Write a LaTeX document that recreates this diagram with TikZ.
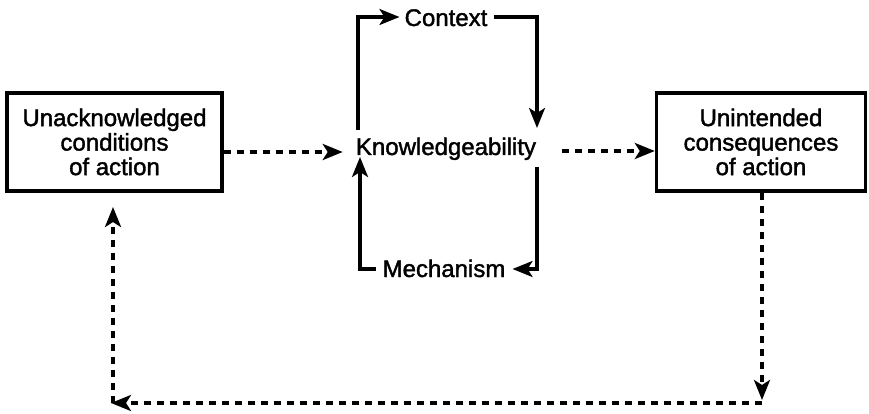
\documentclass[tikz,border=0pt]{standalone}
\usepackage{fontspec}
\setmainfont{Liberation Sans}[BoldFont=Liberation Sans, BoldFeatures={FakeBold=1.6}]
\usetikzlibrary{arrows.meta}

\begin{document}
\begin{tikzpicture}[x=1pt, y=-1pt,
  every node/.style={font=\fontsize{24}{24.5}\selectfont\bfseries},
  lbl/.style={anchor=base, inner xsep=0pt, inner ysep=0pt},
  box/.style={draw, line width=3.4pt, minimum width=#1, minimum height=98pt,
              inner sep=0pt, align=center},
  solidline/.style={line width=3.2pt},
  dotline/.style={line width=3.4pt, dash pattern=on 7pt off 6pt},
  tip/.style={-{Stealth[length=20pt,width=16pt,inset=5pt]}}]

\useasboundingbox (0,0) rectangle (869,414);

% the two outer boxes
\node[box=215pt] (uc) at (114.5,142) {Unacknowledged\\conditions\\of action};
\node[box=209pt] (uq) at (761,142) {Unintended\\consequences\\of action};

% central labels
\node[lbl] (kn) at (446,155) {Knowledgeability};
\node[lbl] (ct) at (446,26) {Context};
\node[lbl] (me) at (444,277) {Mechanism};

% corner points of the two feedback loops
\coordinate (ctl) at (358,130);
\coordinate (ctr) at (537,128);
\coordinate (mbr) at (537,167);
\coordinate (mbl) at (360,157);

% corner points of the outer return path
\coordinate (qdown) at (762,193);
\coordinate (qcorner) at (762,403);
\coordinate (ccorner) at (113,403);
\coordinate (cup) at (113,193);

% upper loop: knowledgeability -> context -> knowledgeability
\draw[solidline, tip] (ctl) |- ([xshift=-5pt,yshift=9pt]ct.base west);
\draw[solidline, tip] ([xshift=6pt,yshift=9pt]ct.base east) -| (ctr);

% lower loop: knowledgeability -> mechanism -> knowledgeability
\draw[solidline, tip] (mbr) |- ([xshift=7pt,yshift=8pt]me.base east);
\draw[solidline, tip] ([xshift=-6pt,yshift=8pt]me.base west) -| (mbl);

% dotted links across the middle
\draw[dotline, tip] (uc.east |- 0,152) -- ([xshift=-13pt]kn.west |- 0,152);
\draw[dotline, tip] ([xshift=26pt]kn.east |- 0,151) -- (uq.west |- 0,151);

% dotted return path along the bottom
\draw[dotline, tip] (qdown) -- ([yshift=3pt]qcorner);
\draw[dotline, tip] (qcorner) -- ([xshift=-2pt]ccorner);
\draw[dotline, tip] (ccorner) -- ([yshift=-14pt]cup);

\end{tikzpicture}
\end{document}
